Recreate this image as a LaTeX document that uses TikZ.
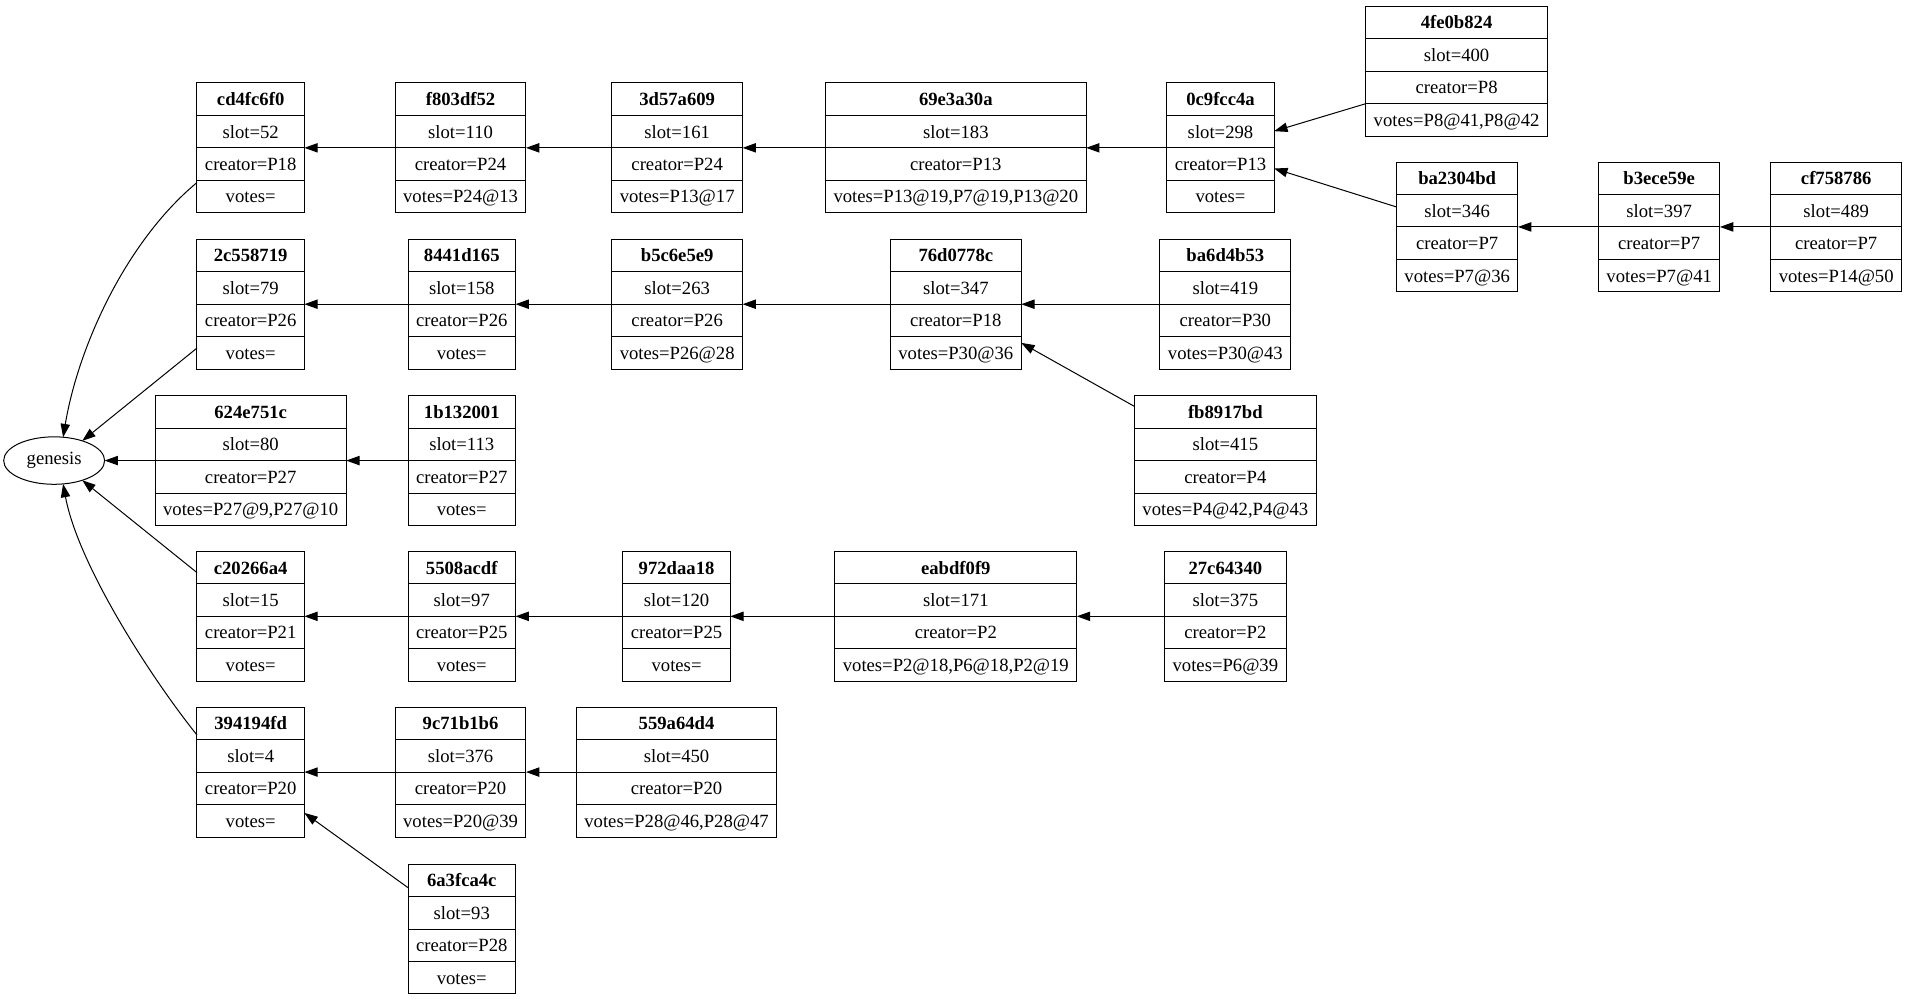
\documentclass[tikz,border=0pt]{standalone}
\usepackage{fontspec}
\setmainfont{Liberation Serif}
\usetikzlibrary{arrows.meta,shapes.multipart,shapes.geometric}

% one strut per record row, so all rows get the same height
\newcommand{\rs}{\rule[-4.4pt]{0pt}{18.4pt}}
\newcommand{\blk}[4]{\rs\textbf{#1}\nodepart{two}\rs slot=#2\nodepart{three}\rs creator=#3\nodepart{four}\rs votes=#4}

\begin{document}
\begin{tikzpicture}[
  x=0.9126pt, y=-0.9126pt,
  font=\fontsize{14}{16.8}\selectfont,
  rec/.style={rectangle split, rectangle split parts=4, draw,
              inner xsep=6pt, inner ysep=2.6pt, outer sep=0pt},
  gen/.style={ellipse, draw, minimum width=75.7pt, minimum height=35.6pt,
              inner sep=0pt, outer sep=0pt},
  >={Triangle[length=10pt,width=7pt]}, line width=0.75pt]
\useasboundingbox (0,0) rectangle (1568,822);

% genesis
\node[gen] (genesis) at (44.5,378.5) {genesis};

% chain through 0c9fcc4a
\node[rec] (cd4fc6f0) at (206,121.5)   {\blk{cd4fc6f0}{52}{P18}{}};
\node[rec] (f803df52) at (378.5,121.5) {\blk{f803df52}{110}{P24}{P24@13}};
\node[rec] (3d57a609) at (556.5,121.5) {\blk{3d57a609}{161}{P24}{P13@17}};
\node[rec] (69e3a30a) at (785.5,121.5) {\blk{69e3a30a}{183}{P13}{P13@19,P7@19,P13@20}};
\node[rec] (0c9fcc4a) at (1003,121.5)  {\blk{0c9fcc4a}{298}{P13}{}};
\node[rec] (4fe0b824) at (1197,58.5)   {\blk{4fe0b824}{400}{P8}{P8@41,P8@42}};
\node[rec] (ba2304bd) at (1197.5,186.5){\blk{ba2304bd}{346}{P7}{P7@36}};
\node[rec] (b3ece59e) at (1363.5,186.5){\blk{b3ece59e}{397}{P7}{P7@41}};
\node[rec] (cf758786) at (1509,186.5)  {\blk{cf758786}{489}{P7}{P14@50}};

% chain through 76d0778c
\node[rec] (2c558719) at (206,250)     {\blk{2c558719}{79}{P26}{}};
\node[rec] (8441d165) at (379.5,250)   {\blk{8441d165}{158}{P26}{}};
\node[rec] (b5c6e5e9) at (556.5,250)   {\blk{b5c6e5e9}{263}{P26}{P26@28}};
\node[rec] (76d0778c) at (785.5,250)   {\blk{76d0778c}{347}{P18}{P30@36}};
\node[rec] (ba6d4b53) at (1007,250)    {\blk{ba6d4b53}{419}{P30}{P30@43}};
\node[rec] (fb8917bd) at (1007,378.5)  {\blk{fb8917bd}{415}{P4}{P4@42,P4@43}};

% chain through 624e751c
\node[rec] (624e751c) at (206,378.5)   {\blk{624e751c}{80}{P27}{P27@9,P27@10}};
\node[rec] (1b132001) at (379.5,378.5) {\blk{1b132001}{113}{P27}{}};

% chain through c20266a4
\node[rec] (c20266a4) at (206,506.5)   {\blk{c20266a4}{15}{P21}{}};
\node[rec] (5508acdf) at (379.5,506.5) {\blk{5508acdf}{97}{P25}{}};
\node[rec] (972daa18) at (556,506.5)   {\blk{972daa18}{120}{P25}{}};
\node[rec] (eabdf0f9) at (785.5,506.5) {\blk{eabdf0f9}{171}{P2}{P2@18,P6@18,P2@19}};
\node[rec] (27c64340) at (1007,506.5)  {\blk{27c64340}{375}{P2}{P6@39}};

% chain through 394194fd
\node[rec] (394194fd) at (206,634.5)   {\blk{394194fd}{4}{P20}{}};
\node[rec] (9c71b1b6) at (378.5,634.5) {\blk{9c71b1b6}{376}{P20}{P20@39}};
\node[rec] (559a64d4) at (556,634.5)   {\blk{559a64d4}{450}{P20}{P28@46,P28@47}};
\node[rec] (6a3fca4c) at (379.5,763.5) {\blk{6a3fca4c}{93}{P28}{}};

% parent links
\draw[->] (f803df52) -- (cd4fc6f0);
\draw[->] (3d57a609) -- (f803df52);
\draw[->] (69e3a30a) -- (3d57a609);
\draw[->] (0c9fcc4a) -- (69e3a30a);
\draw[->] ([yshift=-24.4pt]4fe0b824.west) -- ([yshift=12.5pt]0c9fcc4a.east);
\draw[->] ([yshift=15pt]ba2304bd.west) -- ([yshift=-15.5pt]0c9fcc4a.east);
\draw[->] (b3ece59e) -- (ba2304bd);
\draw[->] (cf758786) -- (b3ece59e);
\draw[->] (8441d165) -- (2c558719);
\draw[->] (b5c6e5e9) -- (8441d165);
\draw[->] (76d0778c) -- (b5c6e5e9);
\draw[->] (ba6d4b53) -- (76d0778c);
\draw[->] ([yshift=40.6pt]fb8917bd.west) -- ([yshift=-29pt]76d0778c.east);
\draw[->] (1b132001) -- (624e751c);
\draw[->] (5508acdf) -- (c20266a4);
\draw[->] (972daa18) -- (5508acdf);
\draw[->] (eabdf0f9) -- (972daa18);
\draw[->] (27c64340) -- (eabdf0f9);
\draw[->] (9c71b1b6) -- (394194fd);
\draw[->] (559a64d4) -- (9c71b1b6);
\draw[->] ([yshift=31pt]6a3fca4c.west) -- ([yshift=-30.6pt]394194fd.east);

% roots to genesis
\draw[->] ([yshift=-26pt]cd4fc6f0.west) .. controls +(-60,50) and +(12,-72) .. (genesis.69);
\draw[->] ([yshift=-32.9pt]2c558719.west) -- (genesis.35);
\draw[->] (624e751c) -- (genesis);
\draw[->] ([yshift=32.8pt]c20266a4.west) -- (genesis.-35);
\draw[->] ([yshift=27.8pt]394194fd.west) .. controls +(-40,-50) and +(12,65) .. (genesis.-69);
\end{tikzpicture}
\end{document}
